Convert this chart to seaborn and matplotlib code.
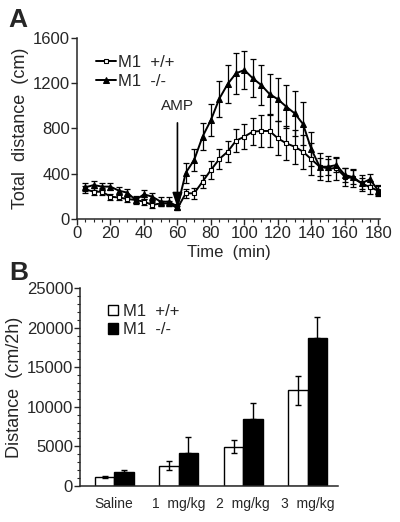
import matplotlib
matplotlib.use('Agg')
import matplotlib.pyplot as plt
from matplotlib.ticker import MultipleLocator
import seaborn as sns
import pandas as pd

# Panel A: time course (mean +/- SEM)
time_min = [5, 10, 15, 20, 25, 30, 35, 40, 45, 50, 55, 60,
            65, 70, 75, 80, 85, 90, 95, 100, 105, 110, 115, 120,
            125, 130, 135, 140, 145, 150, 155, 160, 165, 170, 175, 180]
wt_dist = [262, 241, 241, 197, 190, 177, 168, 153, 124, 138, 138, 95,
           227, 227, 330, 433, 530, 595, 692, 728, 772, 778, 778, 713,
           669, 639, 595, 528, 462, 448, 448, 374, 360, 316, 280, 250]
wt_err = [30, 30, 30, 25, 25, 25, 25, 25, 25, 25, 25, 20,
          40, 50, 60, 80, 90, 90, 100, 110, 120, 140, 140, 150,
          150, 150, 150, 140, 120, 110, 100, 80, 80, 70, 60, 50]
ko_dist = [280, 300, 286, 286, 250, 233, 168, 218, 197, 153, 153, 109,
           409, 522, 728, 875, 1063, 1193, 1288, 1317, 1244, 1185, 1105, 1058,
           993, 934, 840, 616, 462, 462, 477, 389, 369, 316, 351, 250]
ko_err = [35, 40, 35, 30, 35, 35, 35, 40, 35, 40, 40, 25,
          90, 100, 120, 140, 160, 170, 180, 170, 170, 180, 180, 190,
          190, 200, 190, 150, 80, 70, 60, 60, 60, 50, 50, 40]

# Panel B: total distance per dose
doses = ['Saline', '1  mg/kg', '2  mg/kg', '3  mg/kg']
wt_total = [1100, 2570, 4970, 12060]
wt_total_err = [150, 600, 850, 1850]
ko_total = [1810, 4130, 8430, 18680]
ko_total_err = [200, 2000, 2100, 2650]
genotypes = ['M1  +/+', 'M1  -/-']

sns.set_style('ticks')
plt.rcParams['font.family'] = ['Liberation Sans', 'DejaVu Sans']
plt.rcParams['font.size'] = 10

fig = plt.figure(figsize=(4, 5.22), dpi=100)
axA = fig.add_axes([0.1925, 0.5805, 0.7575, 0.3467])
axB = fig.add_axes([0.2, 0.069, 0.645, 0.3793])

# ---- Panel A ----
dfA = pd.DataFrame({
    'time': time_min * 2,
    'dist': wt_dist + ko_dist,
    'geno': [genotypes[0]] * len(time_min) + [genotypes[1]] * len(time_min),
})
axA.errorbar(time_min, wt_dist, yerr=wt_err, fmt='none', ecolor='black',
             elinewidth=0.9, capsize=2.2, capthick=0.9, zorder=2)
axA.errorbar(time_min, ko_dist, yerr=ko_err, fmt='none', ecolor='black',
             elinewidth=0.9, capsize=2.2, capthick=0.9, zorder=2)
sns.lineplot(data=dfA, x='time', y='dist', hue='geno', style='geno',
             markers={genotypes[0]: 's', genotypes[1]: '^'}, dashes=False,
             palette={genotypes[0]: 'black', genotypes[1]: 'black'},
             linewidth=1.4, ax=axA, zorder=3)
# open squares for wild-type, filled triangles for knockout
for l in axA.get_lines():
    if l.get_marker() == 's':
        l.set_markerfacecolor('white')
        l.set_markeredgecolor('black')
        l.set_markeredgewidth(0.8)
        l.set_markersize(3.2)
    elif l.get_marker() == '^':
        l.set_markerfacecolor('black')
        l.set_markeredgecolor('black')
        l.set_markersize(4.2)

axA.set_xlim(0, 181)
axA.set_ylim(0, 1600)
axA.xaxis.set_major_locator(MultipleLocator(20))
axA.xaxis.set_minor_locator(MultipleLocator(5))
axA.yaxis.set_major_locator(MultipleLocator(400))
axA.tick_params(axis='both', which='major', length=4, width=1, labelsize=12, pad=1)
axA.tick_params(axis='x', which='minor', length=2, width=0.8)
axA.set_xlabel('Time  (min)', fontsize=12, labelpad=3)
axA.set_ylabel('Total  distance  (cm)', fontsize=13, labelpad=3)
sns.despine(ax=axA)
for s in ('left', 'bottom'):
    axA.spines[s].set_linewidth(1.1)

handlesA, labelsA = axA.get_legend_handles_labels()
for h in handlesA:
    if h.get_marker() == 's':
        h.set_markerfacecolor('white')
        h.set_markeredgecolor('black')
        h.set_markersize(3.2)
    else:
        h.set_markersize(4.2)
axA.legend(handlesA, labelsA, loc='upper left', bbox_to_anchor=(0.03, 0.96),
           frameon=False, fontsize=12, handlelength=1.2, handletextpad=0.1,
           labelspacing=0.2, borderaxespad=0.2)

axA.annotate('AMP', xy=(60, 100), xytext=(60, 940), ha='center', va='bottom',
             fontsize=11,
             arrowprops=dict(arrowstyle='-|>,head_length=0.9,head_width=0.3',
                             color='black', lw=1.2, mutation_scale=10,
                             shrinkA=5, shrinkB=0))

# ---- Panel B ----
dfB = pd.DataFrame({
    'dose': doses * 2,
    'total': wt_total + ko_total,
    'geno': [genotypes[0]] * len(doses) + [genotypes[1]] * len(doses),
})
sns.barplot(data=dfB, x='dose', y='total', hue='geno',
            palette={genotypes[0]: 'white', genotypes[1]: 'black'},
            edgecolor='black', linewidth=1.0, width=0.6, errorbar=None,
            saturation=1, ax=axB)
bars = [p for p in axB.patches if p.get_height() > 0]
errs = wt_total_err + ko_total_err
for p, e in zip(bars, errs):
    xc = p.get_x() + p.get_width() / 2
    low = e if p.get_facecolor()[0] > 0.5 else 0
    axB.errorbar(xc, p.get_height(), yerr=[[low], [e]],
                 fmt='none', ecolor='black', elinewidth=1.0, capsize=2.5, capthick=1.0)
axB.set_xlim(-0.53, 3.47)
axB.set_ylim(0, 25000)
axB.yaxis.set_major_locator(MultipleLocator(5000))
axB.yaxis.set_minor_locator(MultipleLocator(1000))
axB.tick_params(axis='y', which='major', length=4, width=1, labelsize=12, pad=1)
axB.tick_params(axis='y', which='minor', length=2, width=0.8)
axB.tick_params(axis='x', length=0, labelsize=10, pad=8)
axB.set_xlabel('')
axB.set_ylabel('Distance  (cm/2h)', fontsize=13, labelpad=3)
sns.despine(ax=axB)
for s in ('left', 'bottom'):
    axB.spines[s].set_linewidth(1.1)
axB.legend(loc='upper left', bbox_to_anchor=(0.07, 0.97), frameon=False,
           fontsize=12, handlelength=0.6, handleheight=0.6, handletextpad=0.3,
           labelspacing=0.2, borderaxespad=0.2)

fig.text(0.022, 0.962, 'A', fontsize=19, fontweight='bold', va='center')
fig.text(0.022, 0.477, 'B', fontsize=19, fontweight='bold', va='center')

fig.savefig('out.png', dpi=100)
